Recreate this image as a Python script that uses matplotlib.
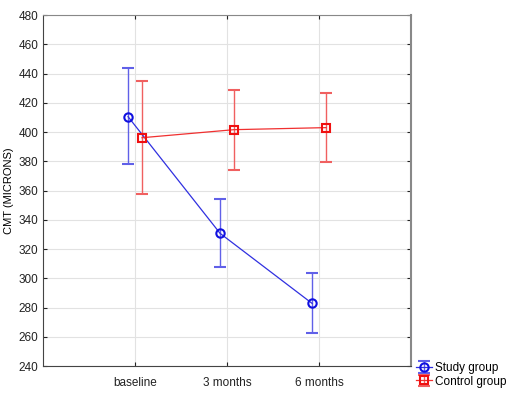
import matplotlib
matplotlib.use("Agg")
import matplotlib.pyplot as plt
import numpy as np

plt.rcParams['font.family'] = ['Liberation Sans', 'DejaVu Sans']

categories = ['baseline', '3 months', '6 months']
study_mean = [410.5, 330.7, 282.8]
study_low = [378.1, 307.7, 262.8]
study_high = [443.5, 354.0, 303.4]
control_mean = [396.1, 401.6, 403.0]
control_low = [357.4, 374.2, 379.3]
control_high = [434.9, 428.7, 426.4]

x = np.arange(1, len(categories) + 1)
off = 0.076

fig = plt.figure(figsize=(5.12, 3.95), dpi=100)
ax = fig.add_axes([0.084, 0.0734, 0.719, 0.8886])

blue = '#3030e0'
red = '#f03030'

yerr_s = [np.array(study_mean) - np.array(study_low), np.array(study_high) - np.array(study_mean)]
yerr_c = [np.array(control_mean) - np.array(control_low), np.array(control_high) - np.array(control_mean)]

ax.errorbar(x - off, study_mean, yerr=yerr_s, color=blue, ecolor='#6060e8', lw=0.9, elinewidth=1.0,
            capsize=4, capthick=1.0, marker='o', ms=6, mfc='none', mec='#1010e0', mew=1.5,
            label='Study group')
ax.errorbar(x + off, control_mean, yerr=yerr_c, color=red, ecolor='#f06060', lw=0.9, elinewidth=1.0,
            capsize=4, capthick=1.0, marker='s', ms=6, mfc='none', mec='#f01010', mew=1.5,
            label='Control group')

ax.set_xlim(0, 4)
ax.set_ylim(240, 480)
ax.set_xticks(x)
ax.set_xticklabels(categories)
ax.set_yticks(np.arange(240, 481, 20))
ax.grid(True, color='#e2e2e2', lw=0.8)
ax.set_axisbelow(True)
ax.tick_params(axis='both', labelsize=8.5, colors='#222222', length=3, direction='in',
               right=True, top=True)
ax.tick_params(axis='x', pad=8)
for s in ['left', 'bottom']:
    ax.spines[s].set_color('#444444')
for s in ['top', 'right']:
    ax.spines[s].set_color('#888888')
ax.spines['right'].set_linewidth(1.5)
ax.set_ylabel('CMT (MICRONS)', fontsize=8, labelpad=3)

ax.legend(loc='lower left', bbox_to_anchor=(1.0, -0.075), frameon=False, fontsize=8.5,
          handlelength=1.4, handletextpad=0.25, labelspacing=0.15, borderaxespad=0.2,
          borderpad=0.2)

fig.savefig('out.png', dpi=100)
